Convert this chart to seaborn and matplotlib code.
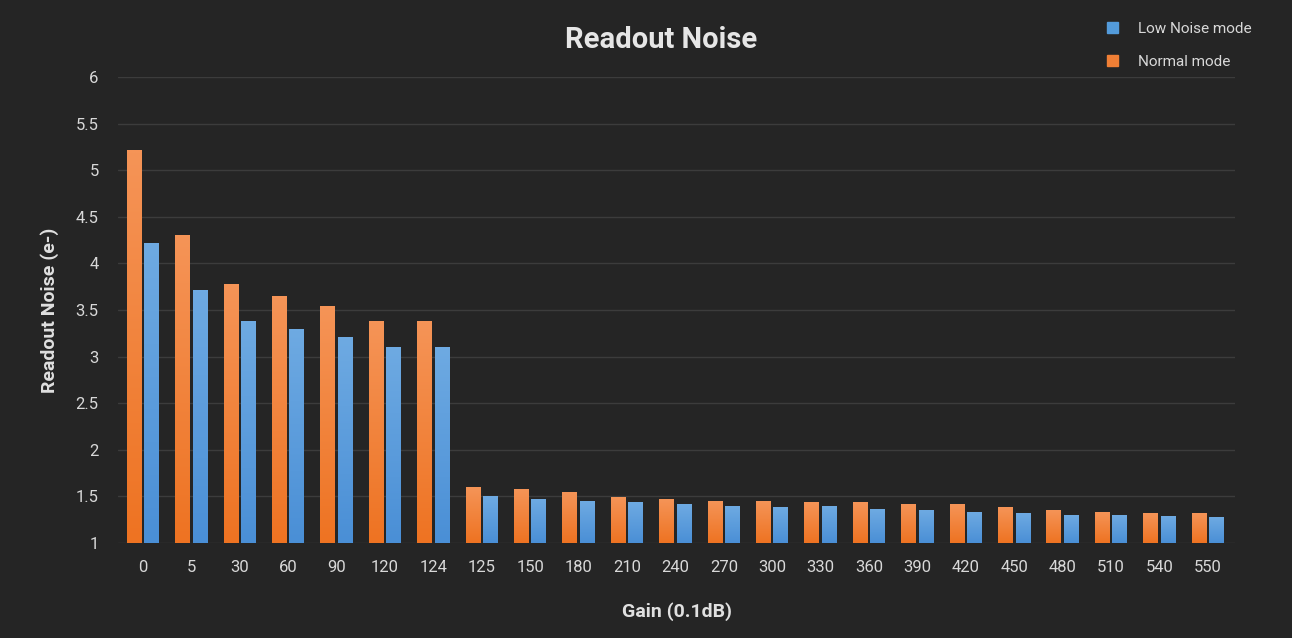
import matplotlib
matplotlib.use("Agg")
import matplotlib.pyplot as plt
import matplotlib.patches as mpatches
import numpy as np
import pandas as pd
import seaborn as sns

gains = ["0", "5", "30", "60", "90", "120", "124", "125", "150", "180", "210", "240",
         "270", "300", "330", "360", "390", "420", "450", "480", "510", "540", "550"]
normal_mode = [5.21, 4.30, 3.77, 3.64, 3.54, 3.38, 3.38, 1.60, 1.57, 1.54, 1.49, 1.47,
               1.44, 1.45, 1.43, 1.43, 1.41, 1.41, 1.38, 1.35, 1.33, 1.32, 1.32]
low_noise_mode = [4.21, 3.71, 3.38, 3.29, 3.21, 3.10, 3.10, 1.50, 1.47, 1.45, 1.43, 1.41,
                  1.39, 1.38, 1.39, 1.36, 1.35, 1.33, 1.32, 1.30, 1.29, 1.28, 1.27]

df = pd.DataFrame({
    "gain": gains * 2,
    "noise": normal_mode + low_noise_mode,
    "mode": ["Normal mode"] * len(gains) + ["Low Noise mode"] * len(gains),
})

bg = "#252525"
sns.set_style("dark")
plt.rcParams["font.family"] = ["Liberation Sans Narrow", "Roboto", "DejaVu Sans"]

fig = plt.figure(figsize=(12.92, 6.38), dpi=100, facecolor=bg)
ax = fig.add_axes([118 / 1292, 1 - 543 / 638, (1235 - 118) / 1292, (543 - 77) / 638])
ax.set_facecolor(bg)

colors = {"Normal mode": "#F07F35", "Low Noise mode": "#539BDB"}
sns.barplot(data=df, x="gain", y="noise", hue="mode",
            hue_order=["Normal mode", "Low Noise mode"], palette=colors,
            width=0.72, gap=0.14, ax=ax, legend=False, zorder=3,
            linewidth=0, edgecolor="none")

ax.set_ylim(1, 6)

# vertical gradient on each bar
grads = {"Normal mode": ("#F59457", "#EE7322"), "Low Noise mode": ("#6EAAE2", "#4A8FD6")}
n = len(gains)
for i, p in enumerate(ax.patches):
    mode = "Normal mode" if i < n else "Low Noise mode"
    top, bot = grads[mode]
    c1 = np.array(matplotlib.colors.to_rgb(top))
    c2 = np.array(matplotlib.colors.to_rgb(bot))
    t = np.linspace(0, 1, 64)[:, None]
    img = (c1 * (1 - t) + c2 * t)[:, None, :]
    x0, w, h = p.get_x(), p.get_width(), p.get_height()
    ax.imshow(img, extent=[x0, x0 + w, 1, h], aspect="auto", zorder=4,
              origin="upper", interpolation="bilinear")

ax.set_xlim(-0.517, 22.56)
ax.set_ylim(1, 6)
ax.set_yticks(np.arange(1, 6.01, 0.5))
ax.set_yticklabels(["1", "1.5", "2", "2.5", "3", "3.5", "4", "4.5", "5", "5.5", "6"])
ax.grid(axis="y", color="#3c3c3c", linewidth=1, zorder=0)
ax.grid(axis="x", visible=False)
for s in ax.spines.values():
    s.set_visible(False)
ax.tick_params(colors="#d8d8d8", labelsize=12, length=0)
ax.tick_params(axis="x", pad=12)
ax.tick_params(axis="y", pad=14)

ax.set_xlabel("Gain (0.1dB)", color="#e0e0e0", fontsize=14, fontweight="bold", labelpad=20)
ax.set_ylabel("Readout Noise (e-)", color="#e0e0e0", fontsize=14, fontweight="bold", labelpad=12)
fig.text(0.512, 1 - 40 / 638, "Readout Noise", color="#e6e6e6", fontsize=21,
         fontweight="bold", ha="center", va="center")

handles = [mpatches.Patch(color="#539BDB", label="Low Noise mode"),
           mpatches.Patch(color="#F07F35", label="Normal mode")]
leg = fig.legend(handles=handles, loc="upper left", bbox_to_anchor=(1093 / 1292, 1 - 8 / 638),
                 frameon=False, fontsize=11, labelcolor="#d8d8d8", handlelength=0.75,
                 handleheight=0.75, handletextpad=1.3, labelspacing=1.25)

fig.savefig("out.png", dpi=100, facecolor=bg)
